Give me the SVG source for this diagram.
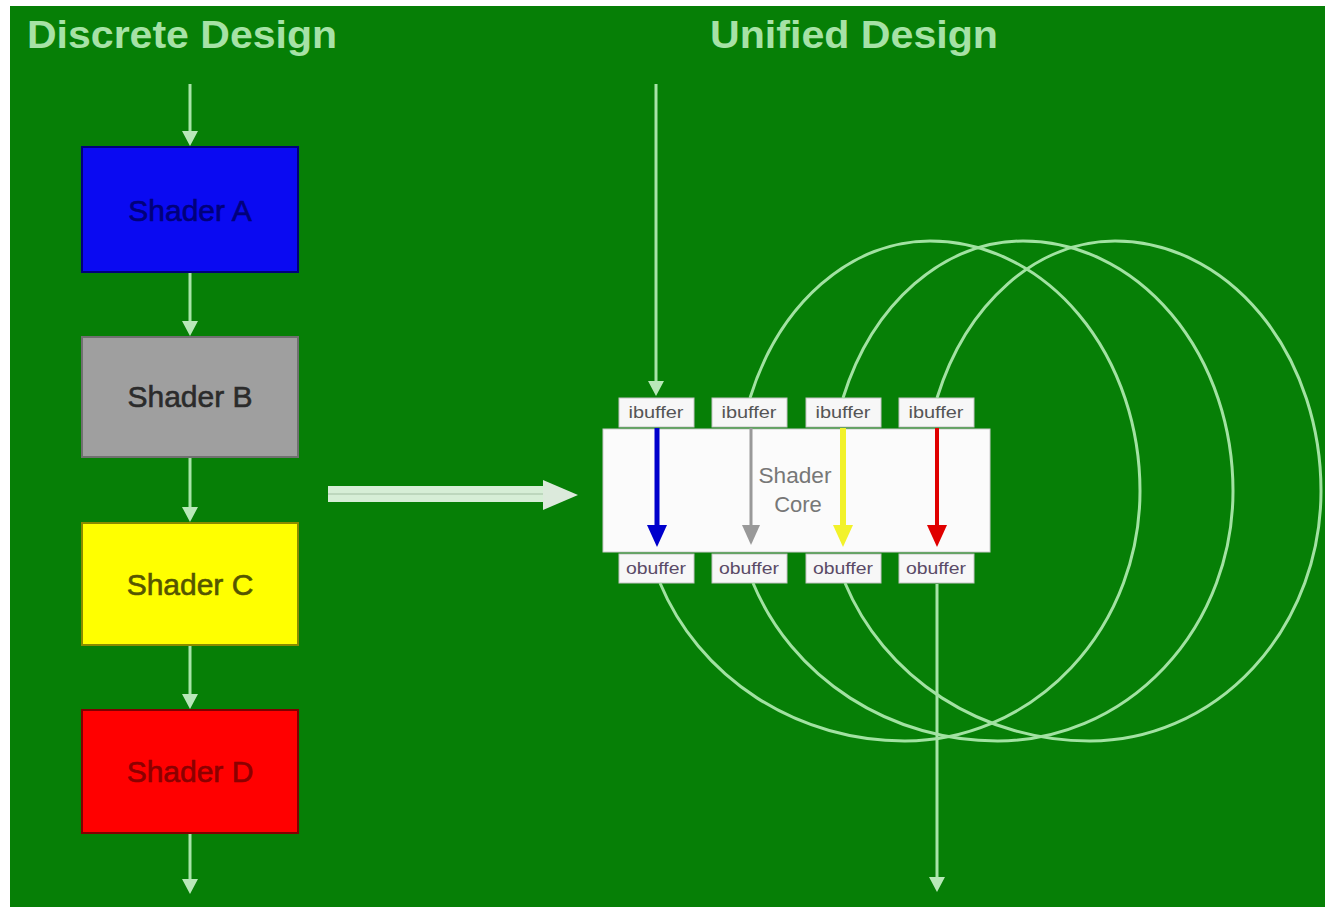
<svg xmlns="http://www.w3.org/2000/svg" width="1325" height="907" viewBox="0 0 1325 907">
<defs>
<style>
.title{font-family:"Liberation Sans",Arial,sans-serif;font-weight:bold;font-size:38px;fill:#A6E2A6}
.lbl{font-family:"Liberation Sans",Arial,sans-serif;font-size:30px;text-anchor:middle;stroke-width:0.6}
.buf{fill:#F7F7F7;stroke:#C4C4C4;stroke-width:1}
.buft{font-family:"Liberation Sans",Arial,sans-serif;font-size:16px;text-anchor:middle}
.flow{stroke:#A8E4A8;stroke-width:3;fill:none}
.loop{stroke:#A2E2A2;stroke-width:3;fill:none}
.core{font-family:"Liberation Sans",Arial,sans-serif;font-size:22px;fill:#777;text-anchor:middle}
</style>
<marker id="ah" viewBox="0 0 15 16" markerWidth="15" markerHeight="16" refX="1" refY="8" orient="auto" markerUnits="userSpaceOnUse">
<path d="M0,0 L15,8 L0,16 z" fill="#B8E8B8"/>
</marker>
<marker id="ahBlue" viewBox="0 0 22 20" markerWidth="22" markerHeight="20" refX="1" refY="10" orient="auto" markerUnits="userSpaceOnUse">
<path d="M0,0 L22,10 L0,20 z" fill="#0000CC"/>
</marker>
<marker id="ahGray" viewBox="0 0 22 20" markerWidth="22" markerHeight="18" refX="1" refY="10" orient="auto" markerUnits="userSpaceOnUse">
<path d="M0,0 L22,10 L0,20 z" fill="#999999"/>
</marker>
<marker id="ahYellow" viewBox="0 0 22 20" markerWidth="22" markerHeight="20" refX="1" refY="10" orient="auto" markerUnits="userSpaceOnUse">
<path d="M0,0 L22,10 L0,20 z" fill="#F2F22A"/>
</marker>
<marker id="ahRed" viewBox="0 0 22 20" markerWidth="22" markerHeight="20" refX="1" refY="10" orient="auto" markerUnits="userSpaceOnUse">
<path d="M0,0 L22,10 L0,20 z" fill="#E00000"/>
</marker>
</defs>

<rect x="0" y="0" width="1325" height="907" fill="#FFFFFF"/>
<rect x="10" y="6" width="1315" height="901" fill="#067F06"/>

<g id="titles">
<text class="title" x="27" y="48" textLength="310" lengthAdjust="spacingAndGlyphs">Discrete Design</text>
<text class="title" x="710" y="48" textLength="288" lengthAdjust="spacingAndGlyphs">Unified Design</text>
</g>

<g id="shaderA">
<rect x="82" y="147" width="216" height="125" fill="#0A0AF2" stroke="#00007A" stroke-width="2"/>
<text class="lbl" x="190" y="221" fill="#00007A" stroke="#00007A">Shader A</text>
</g>
<g id="shaderB">
<rect x="82" y="337" width="216" height="120" fill="#9F9F9F" stroke="#707070" stroke-width="2"/>
<text class="lbl" x="190" y="407" fill="#2B2B2B" stroke="#2B2B2B">Shader B</text>
</g>
<g id="shaderC">
<rect x="82" y="523" width="216" height="122" fill="#FFFF00" stroke="#8A8A00" stroke-width="2"/>
<text class="lbl" x="190" y="595" fill="#555500" stroke="#555500">Shader C</text>
</g>
<g id="shaderD">
<rect x="82" y="710" width="216" height="123" fill="#FF0000" stroke="#800000" stroke-width="2"/>
<text class="lbl" x="190" y="782" fill="#8B0000" stroke="#8B0000">Shader D</text>
</g>

<g id="transition">
<rect x="328" y="486" width="218" height="16" fill="#D6EED6"/>
<line x1="328" y1="494" x2="546" y2="494" stroke="#B4CFB4" stroke-width="1.5"/>
<path d="M543,480 L578,495 L543,510 z" fill="#DCEADC"/>
</g>

<g id="shaderCore">
<rect x="603" y="429" width="387" height="123" fill="#FBFBFB" stroke="#CCCCCC" stroke-width="1"/>
<text class="core" x="795" y="483" textLength="73" lengthAdjust="spacingAndGlyphs">Shader</text>
<text class="core" x="798" y="512">Core</text>
</g>

<g id="ibuffer1"><rect class="buf" x="619" y="398" width="75" height="29"/><text class="buft" x="656" y="418" fill="#555" textLength="55" lengthAdjust="spacingAndGlyphs">ibuffer</text></g>
<g id="ibuffer2"><rect class="buf" x="712" y="398" width="75" height="29"/><text class="buft" x="749" y="418" fill="#555" textLength="55" lengthAdjust="spacingAndGlyphs">ibuffer</text></g>
<g id="ibuffer3"><rect class="buf" x="806" y="398" width="75" height="29"/><text class="buft" x="843" y="418" fill="#555" textLength="55" lengthAdjust="spacingAndGlyphs">ibuffer</text></g>
<g id="ibuffer4"><rect class="buf" x="899" y="398" width="75" height="29"/><text class="buft" x="936" y="418" fill="#555" textLength="55" lengthAdjust="spacingAndGlyphs">ibuffer</text></g>

<g id="obuffer1"><rect class="buf" x="619" y="554" width="75" height="29"/><text class="buft" x="656" y="574" fill="#5A4A66" textLength="60" lengthAdjust="spacingAndGlyphs">obuffer</text></g>
<g id="obuffer2"><rect class="buf" x="712" y="554" width="75" height="29"/><text class="buft" x="749" y="574" fill="#5A4A66" textLength="60" lengthAdjust="spacingAndGlyphs">obuffer</text></g>
<g id="obuffer3"><rect class="buf" x="806" y="554" width="75" height="29"/><text class="buft" x="843" y="574" fill="#5A4A66" textLength="60" lengthAdjust="spacingAndGlyphs">obuffer</text></g>
<g id="obuffer4"><rect class="buf" x="899" y="554" width="75" height="29"/><text class="buft" x="936" y="574" fill="#5A4A66" textLength="60" lengthAdjust="spacingAndGlyphs">obuffer</text></g>

<g id="connectors">
<line class="flow" x1="190" y1="84" x2="190" y2="132" marker-end="url(#ah)"/>
<line class="flow" x1="190" y1="273" x2="190" y2="322" marker-end="url(#ah)"/>
<line class="flow" x1="190" y1="458" x2="190" y2="508" marker-end="url(#ah)"/>
<line class="flow" x1="190" y1="646" x2="190" y2="695" marker-end="url(#ah)"/>
<line class="flow" x1="190" y1="834" x2="190" y2="880" marker-end="url(#ah)"/>

<line class="flow" x1="656" y1="84" x2="656" y2="382" marker-end="url(#ah)"/>
<line class="flow" x1="937" y1="584" x2="937" y2="878" marker-end="url(#ah)"/>

<path class="loop" d="M660,583 A263,250 0 0 0 905,741 A235,250 0 0 0 1140,491 A210,250 0 0 0 930,241 A194,250 0 0 0 750,398"/>
<path class="loop" d="M753,583 A263,250 0 0 0 998,741 A235,250 0 0 0 1233,491 A210,250 0 0 0 1023,241 A194,250 0 0 0 843,398"/>
<path class="loop" d="M845,583 A263,250 0 0 0 1090,741 A231,250 0 0 0 1321,491 A206,250 0 0 0 1115,241 A192,250 0 0 0 937,398"/>

<line x1="657" y1="428" x2="657" y2="526" stroke="#0000CC" stroke-width="5" marker-end="url(#ahBlue)"/>
<line x1="751" y1="428" x2="751" y2="526" stroke="#999999" stroke-width="3" marker-end="url(#ahGray)"/>
<line x1="843" y1="428" x2="843" y2="526" stroke="#F2F22A" stroke-width="6" marker-end="url(#ahYellow)"/>
<line x1="937" y1="428" x2="937" y2="526" stroke="#E00000" stroke-width="4" marker-end="url(#ahRed)"/>
</g>
</svg>
